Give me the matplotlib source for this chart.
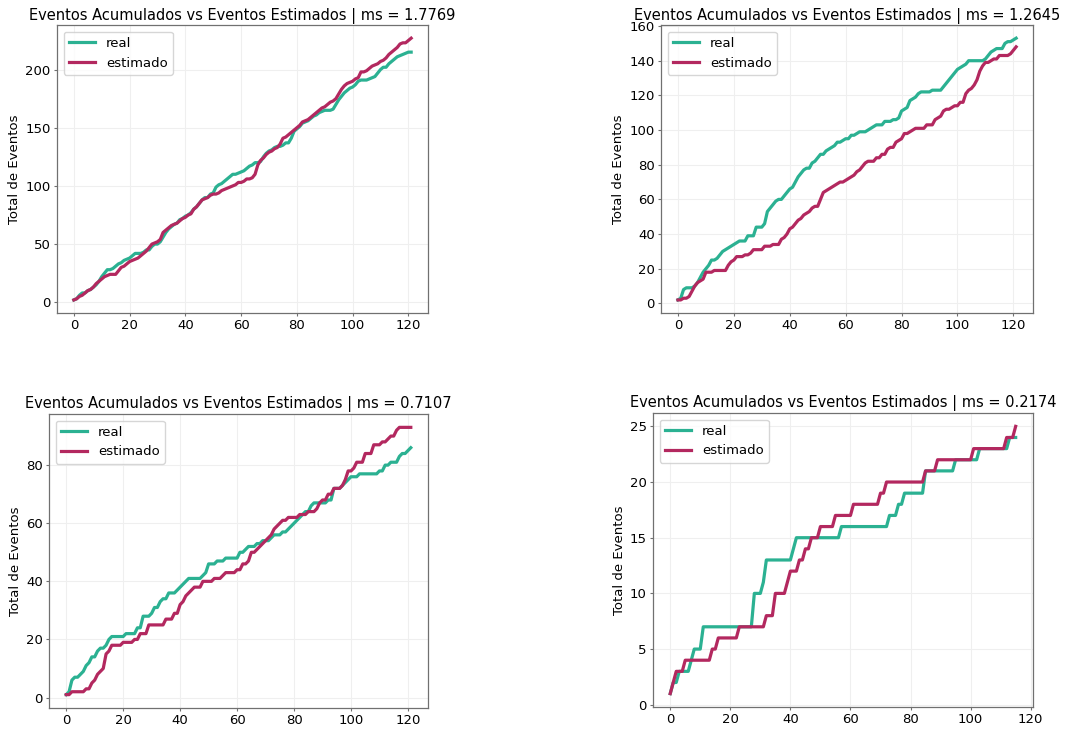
import numpy as np
import matplotlib
matplotlib.use('Agg')
import matplotlib.pyplot as plt

# cumulative event counts per day, real vs estimated, for four cases
ms_values = [1.7769, 1.2645, 0.7107, 0.2174]

real_1 = [2, 3, 6, 8, 8, 10, 11, 13, 15, 18,
          22, 25, 28, 28, 29, 31, 33, 34, 36, 37,
          38, 40, 42, 42, 42, 43, 45, 45, 48, 50,
          50, 52, 56, 60, 63, 65, 67, 68, 71, 72,
          74, 75, 77, 80, 82, 85, 88, 90, 90, 93,
          94, 99, 101, 102, 104, 106, 108, 110, 110, 111,
          112, 113, 115, 117, 118, 120, 120, 121, 125, 128,
          130, 131, 133, 134, 134, 135, 137, 137, 141, 147,
          149, 151, 154, 155, 156, 158, 160, 161, 163, 164,
          165, 165, 165, 166, 170, 174, 177, 180, 182, 184,
          185, 187, 190, 191, 191, 191, 192, 193, 194, 197,
          200, 202, 202, 205, 207, 209, 211, 212, 213, 214,
          215, 215]
est_1 = [2, 3, 5, 6, 8, 10, 11, 13, 16, 18,
         20, 22, 23, 24, 24, 24, 27, 30, 31, 33,
         35, 36, 37, 38, 40, 42, 44, 47, 50, 51,
         52, 54, 60, 62, 64, 66, 67, 68, 70, 72,
         73, 75, 76, 80, 82, 85, 88, 89, 90, 92,
         93, 93, 94, 96, 97, 98, 99, 100, 101, 103,
         103, 104, 106, 106, 107, 110, 118, 122, 124, 127,
         129, 130, 132, 133, 136, 141, 142, 144, 146, 148,
         150, 152, 155, 156, 157, 159, 161, 163, 165, 167,
         168, 170, 172, 173, 175, 179, 183, 186, 188, 189,
         190, 192, 193, 198, 198, 199, 201, 203, 204, 205,
         207, 208, 210, 213, 215, 217, 219, 222, 223, 223,
         225, 227]

real_2 = [2, 3, 8, 9, 9, 9, 10, 12, 15, 18,
          20, 22, 25, 25, 26, 28, 30, 31, 32, 33,
          34, 35, 36, 36, 36, 39, 39, 39, 44, 44,
          44, 46, 53, 55, 57, 59, 60, 60, 62, 64,
          66, 67, 70, 73, 75, 77, 78, 78, 81, 82,
          84, 86, 86, 88, 89, 90, 91, 93, 93, 94,
          95, 95, 97, 97, 98, 99, 99, 99, 100, 101,
          102, 103, 103, 103, 105, 105, 105, 106, 106, 107,
          111, 112, 113, 117, 118, 119, 121, 122, 122, 122,
          122, 123, 123, 123, 123, 125, 127, 129, 131, 133,
          135, 136, 137, 138, 140, 140, 140, 140, 140, 140,
          141, 143, 145, 146, 147, 147, 147, 150, 151, 151,
          152, 153]
est_2 = [2, 2, 3, 3, 4, 7, 10, 12, 13, 14,
         18, 18, 18, 19, 19, 19, 19, 19, 22, 24,
         25, 27, 27, 27, 28, 28, 29, 31, 31, 31,
         31, 33, 33, 33, 34, 34, 34, 37, 38, 40,
         43, 44, 46, 48, 49, 51, 52, 53, 55, 56,
         56, 60, 64, 65, 66, 67, 68, 69, 70, 70,
         71, 72, 73, 74, 76, 77, 79, 81, 82, 82,
         82, 84, 84, 86, 86, 89, 90, 90, 93, 94,
         95, 98, 98, 99, 100, 101, 101, 101, 101, 103,
         103, 103, 106, 107, 108, 111, 112, 112, 113, 114,
         114, 116, 116, 121, 123, 124, 126, 129, 134, 137,
         139, 139, 140, 141, 141, 143, 143, 143, 143, 144,
         146, 148]

real_3 = [1, 2, 6, 7, 7, 8, 9, 11, 12, 14,
          14, 16, 17, 17, 18, 20, 21, 21, 21, 21,
          21, 22, 22, 22, 22, 24, 24, 28, 28, 28,
          29, 31, 31, 33, 34, 34, 36, 36, 36, 37,
          38, 39, 40, 41, 41, 41, 41, 41, 42, 43,
          46, 46, 46, 47, 47, 47, 48, 48, 48, 48,
          48, 50, 50, 51, 52, 52, 52, 53, 53, 54,
          54, 54, 55, 56, 56, 56, 57, 57, 58, 59,
          60, 61, 62, 63, 64, 64, 66, 67, 67, 67,
          67, 67, 68, 68, 72, 72, 72, 73, 74, 75,
          76, 76, 76, 77, 77, 77, 77, 77, 77, 77,
          78, 78, 80, 80, 81, 81, 81, 83, 84, 84,
          85, 86]
est_3 = [1, 1, 2, 2, 2, 2, 2, 3, 3, 5,
         6, 8, 9, 10, 15, 16, 18, 18, 18, 18,
         19, 19, 19, 19, 20, 20, 22, 22, 22, 25,
         25, 25, 25, 25, 25, 27, 27, 27, 29, 29,
         32, 33, 35, 36, 37, 38, 38, 38, 40, 40,
         40, 40, 41, 41, 41, 42, 43, 43, 43, 43,
         44, 44, 46, 46, 47, 50, 50, 51, 52, 53,
         54, 55, 56, 58, 59, 60, 61, 61, 62, 62,
         62, 62, 63, 63, 63, 64, 64, 64, 65, 67,
         68, 68, 70, 70, 72, 72, 72, 73, 75, 78,
         78, 79, 81, 81, 81, 84, 84, 84, 87, 87,
         87, 88, 88, 89, 90, 90, 92, 93, 93, 93,
         93, 93]

real_4 = [1, 2, 2, 3, 3, 3, 3, 4, 5, 5,
          5, 7, 7, 7, 7, 7, 7, 7, 7, 7,
          7, 7, 7, 7, 7, 7, 7, 7, 10, 10,
          10, 11, 13, 13, 13, 13, 13, 13, 13, 13,
          13, 14, 15, 15, 15, 15, 15, 15, 15, 15,
          15, 15, 15, 15, 15, 15, 15, 16, 16, 16,
          16, 16, 16, 16, 16, 16, 16, 16, 16, 16,
          16, 16, 16, 17, 17, 17, 18, 18, 19, 19,
          19, 19, 19, 19, 19, 21, 21, 21, 21, 21,
          21, 21, 21, 21, 21, 22, 22, 22, 22, 22,
          22, 22, 22, 23, 23, 23, 23, 23, 23, 23,
          23, 23, 23, 24, 24, 24]
est_4 = [1, 2, 3, 3, 3, 4, 4, 4, 4, 4,
         4, 4, 4, 4, 5, 5, 6, 6, 6, 6,
         6, 6, 6, 7, 7, 7, 7, 7, 7, 7,
         7, 7, 8, 8, 8, 10, 10, 10, 10, 11,
         12, 12, 12, 13, 13, 14, 14, 15, 15, 15,
         16, 16, 16, 16, 16, 17, 17, 17, 17, 17,
         17, 18, 18, 18, 18, 18, 18, 18, 18, 18,
         19, 19, 20, 20, 20, 20, 20, 20, 20, 20,
         20, 20, 20, 20, 20, 21, 21, 21, 21, 22,
         22, 22, 22, 22, 22, 22, 22, 22, 22, 22,
         22, 23, 23, 23, 23, 23, 23, 23, 23, 23,
         23, 23, 24, 24, 24, 25]

reals = [real_1, real_2, real_3, real_4]
ests = [est_1, est_2, est_3, est_4]

color_real = '#2bb192'
color_est = '#b3285f'

plt.rcParams['font.family'] = 'DejaVu Sans'
plt.rcParams['font.size'] = 10

fig, axs = plt.subplots(2, 2, figsize=(10.65, 7.29), dpi=100)
axs = axs.flatten()

# axes placement in figure fractions
positions = [
    [0.0535, 0.5706, 0.3484, 0.3950],
    [0.6207, 0.5706, 0.3493, 0.3950],
    [0.0460, 0.0288, 0.3559, 0.4033],
    [0.6131, 0.0302, 0.3568, 0.4033],
]

for i, ax in enumerate(axs):
    ax.set_position(positions[i])
    days = np.arange(len(reals[i]))
    ax.plot(days, reals[i], color=color_real, linewidth=2.3, label='real')
    ax.plot(days, ests[i], color=color_est, linewidth=2.3, label='estimado')
    ax.set_title(f'Eventos Acumulados vs Eventos Estimados | ms = {ms_values[i]:.4f}',
                 fontsize=10.5, pad=4)
    ax.set_ylabel('Total de Eventos', fontsize=9.5, labelpad=3)
    ax.grid(True, color='#efefef', linewidth=0.8)
    ax.set_axisbelow(True)
    for spine in ax.spines.values():
        spine.set_color('#707070')
        spine.set_linewidth(0.9)
    ax.tick_params(labelsize=9.5, color='#707070', length=2.5, pad=2)
    ax.legend(loc='upper left', fontsize=9.5)

fig.savefig('out.png', dpi=100)
